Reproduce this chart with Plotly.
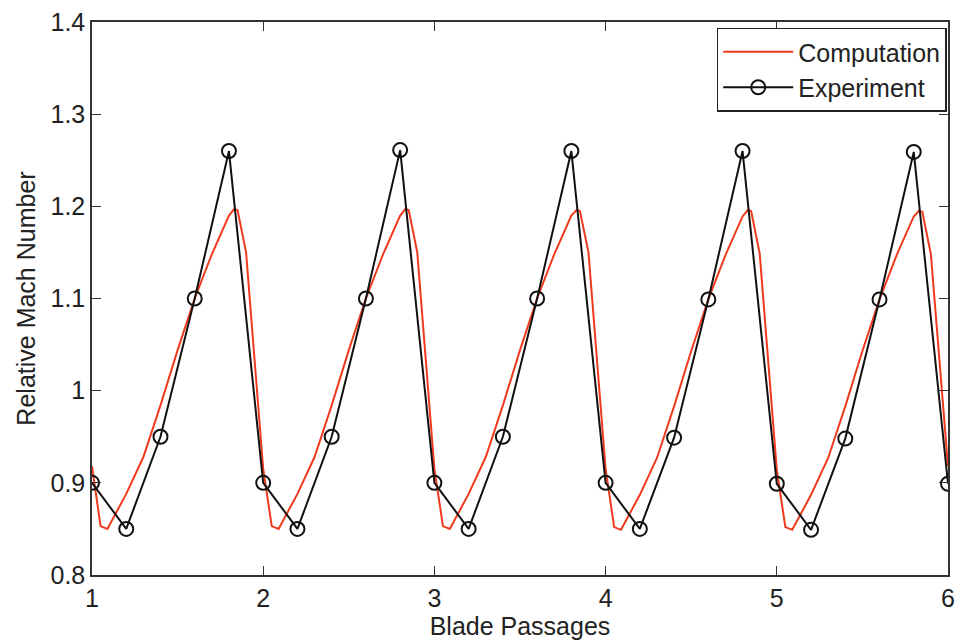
import plotly.graph_objects as go

# Experiment data (Blade passages vs relative Mach number)
exp_x = [1.0, 1.2, 1.4, 1.6, 1.8,
         2.0, 2.2, 2.4, 2.6, 2.8,
         3.0, 3.2, 3.4, 3.6, 3.8,
         4.0, 4.2, 4.4, 4.6, 4.8,
         5.0, 5.2, 5.4, 5.6, 5.8,
         6.0]
exp_y = [0.900, 0.850, 0.950, 1.100, 1.260,
         0.900, 0.850, 0.950, 1.100, 1.261,
         0.900, 0.850, 0.950, 1.100, 1.260,
         0.900, 0.850, 0.949, 1.099, 1.260,
         0.899, 0.849, 0.948, 1.099, 1.259,
         0.899]

# Computation data
comp_x = [1.00, 1.05, 1.09, 1.20, 1.30, 1.40, 1.50, 1.60, 1.70, 1.80, 1.83, 1.85, 1.90,
          2.00, 2.05, 2.09, 2.20, 2.30, 2.40, 2.50, 2.60, 2.70, 2.80, 2.83, 2.85, 2.90,
          3.00, 3.05, 3.09, 3.20, 3.30, 3.40, 3.50, 3.60, 3.70, 3.80, 3.83, 3.85, 3.90,
          4.00, 4.05, 4.09, 4.20, 4.30, 4.40, 4.50, 4.60, 4.70, 4.80, 4.83, 4.85, 4.90,
          5.00, 5.05, 5.09, 5.20, 5.30, 5.40, 5.50, 5.60, 5.70, 5.80, 5.83, 5.85, 5.90,
          6.00]
comp_y = [0.918, 0.853, 0.850, 0.888, 0.928, 0.984, 1.044, 1.100, 1.148, 1.190, 1.197, 1.196, 1.150,
          0.915, 0.853, 0.850, 0.888, 0.928, 0.984, 1.044, 1.100, 1.148, 1.190, 1.197, 1.196, 1.150,
          0.915, 0.853, 0.850, 0.888, 0.928, 0.984, 1.044, 1.100, 1.148, 1.190, 1.196, 1.195, 1.150,
          0.915, 0.852, 0.849, 0.887, 0.927, 0.983, 1.043, 1.099, 1.147, 1.189, 1.196, 1.195, 1.149,
          0.914, 0.852, 0.849, 0.887, 0.927, 0.983, 1.043, 1.099, 1.147, 1.189, 1.195, 1.194, 1.148,
          0.918]

x_ticks = [1, 2, 3, 4, 5, 6]
y_ticks = [0.8, 0.9, 1.0, 1.1, 1.2, 1.3, 1.4]
y_tick_text = ["0.8", "0.9", "1", "1.1", "1.2", "1.3", "1.4"]

FONT = "Liberation Sans, Arial, Helvetica, sans-serif"
AXCOL = "#333333"

fig = go.Figure()
fig.add_trace(go.Scatter(
    x=comp_x, y=comp_y, mode="lines", name="Computation",
    line=dict(color="#f03a1e", width=2),
))
fig.add_trace(go.Scatter(
    x=exp_x, y=exp_y, mode="lines+markers", name="Experiment",
    line=dict(color="#111111", width=2),
    marker=dict(symbol="circle-open", size=14, color="#111111",
                line=dict(width=2, color="#111111")),
))

fig.update_layout(
    width=963, height=643,
    margin=dict(l=92, r=8, t=16, b=68),
    paper_bgcolor="white", plot_bgcolor="white",
    font=dict(family=FONT, size=25, color="#222222"),
    showlegend=True,
    legend=dict(
        x=0.9985, y=0.99, xanchor="right", yanchor="top",
        bgcolor="white", bordercolor="#222222", borderwidth=1.5,
        font=dict(family=FONT, size=25, color="#222222"),
        itemwidth=70, tracegroupgap=0,
    ),
    xaxis=dict(
        range=[1, 6], tickvals=x_ticks, ticktext=[str(v) for v in x_ticks],
        showgrid=False, zeroline=False,
        showline=True, linecolor=AXCOL, linewidth=1.5, mirror="ticks",
        ticks="inside", ticklen=9, tickwidth=1, tickcolor=AXCOL,
        title=dict(text="Blade Passages", standoff=0, font=dict(size=25)),
        tickfont=dict(size=25),
    ),
    yaxis=dict(
        range=[0.8, 1.4], tickvals=y_ticks, ticktext=y_tick_text,
        showgrid=False, zeroline=False,
        showline=True, linecolor=AXCOL, linewidth=1.5, mirror="ticks",
        ticks="inside", ticklen=9, tickwidth=1, tickcolor=AXCOL,
        title=dict(text="Relative Mach Number", standoff=8, font=dict(size=25)),
        tickfont=dict(size=25),
    ),
)

fig.write_html("out.html")
